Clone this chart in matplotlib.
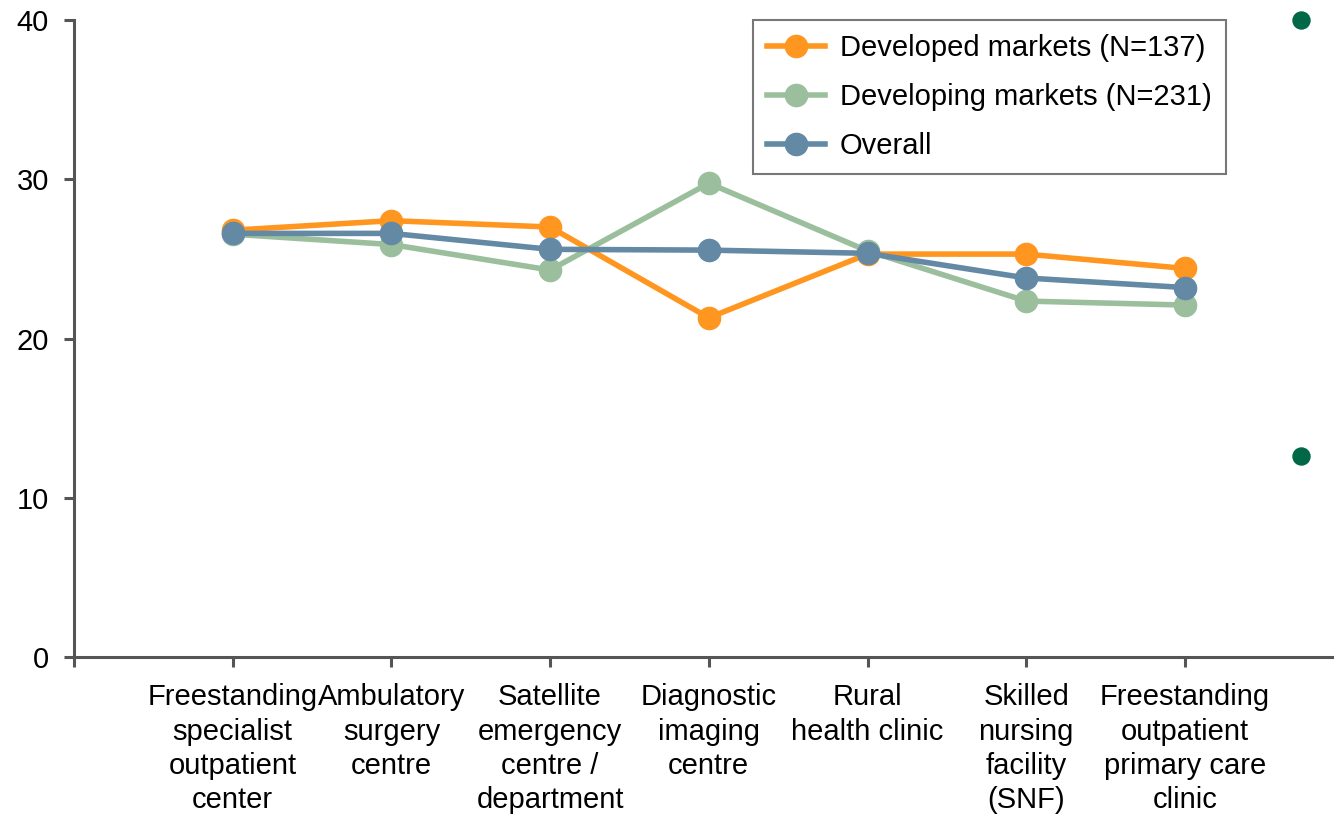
import numpy as np
import matplotlib
matplotlib.use("Agg")
import matplotlib.pyplot as plt

plt.rcParams['font.family'] = ['Liberation Sans', 'DejaVu Sans']

categories = ["Freestanding\nspecialist\noutpatient\ncenter",
              "Ambulatory\nsurgery\ncentre",
              "Satellite\nemergency\ncentre /\ndepartment",
              "Diagnostic\nimaging\ncentre",
              "Rural\nhealth clinic",
              "Skilled\nnursing\nfacility\n(SNF)",
              "Freestanding\noutpatient\nprimary care\nclinic"]

developed = [26.8, 27.4, 27.0, 21.3, 25.3, 25.3, 24.4]
developing = [26.55, 25.9, 24.3, 29.75, 25.5, 22.35, 22.1]
overall = [26.6, 26.6, 25.6, 25.55, 25.35, 23.8, 23.2]

# stray points at the right edge
extra_x = [7.73, 7.73]
extra_y = [40.0, 12.65]

c_dev = '#FF9620'
c_devg = '#9BBF9D'
c_all = '#6389A5'
c_extra = '#006747'

fig = plt.figure(figsize=(13.34, 8.15), dpi=100)
ax = fig.add_axes([74 / 1334, 1 - 657 / 815, 1 - 74 / 1334, (657 - 20) / 815])

x = np.arange(1, len(categories) + 1)
ax.plot(x, developed, color=c_dev, lw=4, marker='o', ms=16, label='Developed markets (N=137)', zorder=3)
ax.plot(x, developing, color=c_devg, lw=4, marker='o', ms=16, label='Developing markets (N=231)', zorder=2)
ax.plot(x, overall, color=c_all, lw=4, marker='o', ms=16, label='Overall', zorder=4)
ax.scatter(extra_x, extra_y, color=c_extra, s=150, zorder=5, clip_on=False)

ax.set_xlim(0, (1334 - 74) / 158.7)
ax.set_ylim(0, 40)
ax.set_yticks([0, 10, 20, 30, 40])
ax.set_xticks(np.arange(0, len(categories) + 1))
ax.set_xticklabels([''] + categories, fontsize=21, linespacing=1.28)
ax.tick_params(axis='y', labelsize=21, direction='out', length=7, width=2.2, color='#555555', pad=11)
ax.tick_params(axis='x', direction='out', length=7, width=2.2, color='#555555', pad=12)

for s in ['top', 'right']:
    ax.spines[s].set_visible(False)
for s in ['left', 'bottom']:
    ax.spines[s].set_color('#555555')
    ax.spines[s].set_linewidth(2.2)

leg = ax.legend(loc='upper left', bbox_to_anchor=(753 / 1334, 1 - 20 / 815), bbox_transform=fig.transFigure,
                fontsize=21, frameon=True, fancybox=False, borderpad=0.48, handlelength=2.0,
                handletextpad=0.5, labelspacing=0.72, borderaxespad=0)
leg.get_frame().set_edgecolor('#555555')
leg.get_frame().set_linewidth(1.5)

fig.savefig('out.png', dpi=100)
